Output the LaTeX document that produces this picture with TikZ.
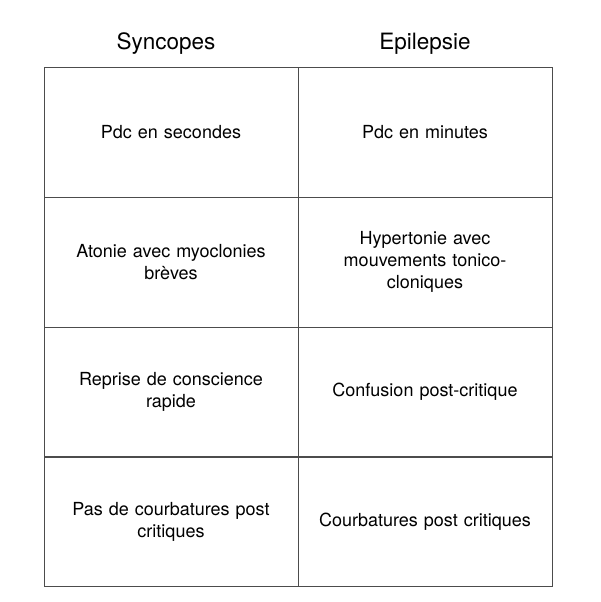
\documentclass[tikz,border=0pt]{standalone}
\usepackage{fontspec}
\setmainfont{TeX Gyre Heros}
\begin{document}
\begin{tikzpicture}[x=1pt,y=-1pt,
  cell/.style={draw=black!70,line width=0.6pt,minimum width=254pt,minimum height=130pt,inner sep=0pt,
    text width=240pt,align=center,font=\fontsize{18}{22}\selectfont},
  head/.style={font=\fontsize{22.5}{26}\selectfont}]
\useasboundingbox (0,0) rectangle (600,602);
\node[head] (h1) at (166,44) {Syncopes};
\node[head] (h2) at (425,44) {Epilepsie};
\node[cell] (a1) at (171,132) {Pdc en secondes};
\node[cell] (b1) at (425,132) {Pdc en minutes};
\node[cell] (a2) at (171,262) {Atonie avec myoclonies\\brèves};
\node[cell] (b2) at (425,262) {Hypertonie avec\\mouvements tonico-\\cloniques};
\node[cell] (a3) at (171,392) {Reprise de conscience\\rapide};
\node[cell] (b3) at (425,392) {Confusion post-critique};
\node[cell] (a4) at (171,521.5) {Pas de courbatures post\\critiques};
\node[cell] (b4) at (425,521.5) {Courbatures post critiques};
\end{tikzpicture}
\end{document}
